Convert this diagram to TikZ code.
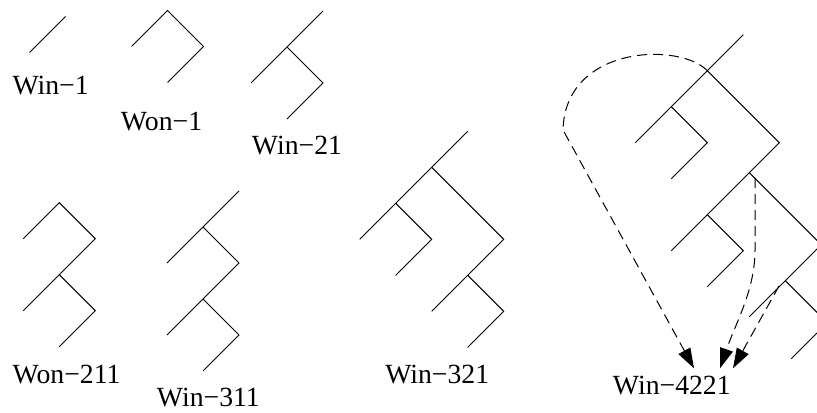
\documentclass[tikz,border=0pt]{standalone}
\usepackage{fontspec}
\setmainfont{Liberation Serif}
\usetikzlibrary{arrows.meta}
\begin{document}
\begin{tikzpicture}[x=0.75pt,y=-0.75pt,
  tree/.style={line width=0.75pt,line join=miter,line cap=butt},
  move/.style={line width=0.75pt,dash pattern=on 7.5pt off 4.5pt,
    -{Triangle[length=15pt,width=10pt]}},
  lbl/.style={inner sep=0pt,anchor=base west,
    font=\fontsize{20.8}{25}\selectfont}]
\useasboundingbox (0,0) rectangle (817,413);
\clip (0,0) rectangle (817,413);

% Win-1
\draw[tree] (29.5,52.5) -- (65.5,16.5);
\node[lbl] (win1) at (12.3,95) {Win−1};

% Won-1
\draw[tree] (131.5,46.5) -- (167.5,10.5) -- (203.5,46.5) -- (167.5,82.5);
\node[lbl] (won1) at (120.7,131) {Won−1};

% Win-21
\draw[tree] (323,11) -- (251,83);
\draw[tree] (287,47) -- (323,83) -- (287,119);
\node[lbl] (win21) at (251.7,155) {Win−21};

% Won-211
\draw[tree] (23.3,238.7) -- (59.3,202.7) -- (95.3,238.7) -- (23.3,310.7);
\draw[tree] (59.3,274.7) -- (95.3,310.7) -- (59.3,346.7);
\node[lbl] (won211) at (12.3,383.3) {Won−211};

% Win-311
\draw[tree] (239,191) -- (167,263);
\draw[tree] (203,227) -- (239,263) -- (167,335);
\draw[tree] (203,299) -- (239,335) -- (203,371);
\node[lbl] (win311) at (156.7,406.7) {Win−311};

% Win-321
\draw[tree] (467.7,131.3) -- (431.7,167.3) -- (359.7,239.3);
\draw[tree] (395.7,203.3) -- (431.7,239.3) -- (395.7,275.3);
\draw[tree] (431.7,167.3) -- (503.7,239.3) -- (431.7,311.3);
\draw[tree] (467.7,275.3) -- (503.7,311.3) -- (467.7,347.3);
\node[lbl] (win321) at (385,383.3) {Win−321};

% Win-4221
\coordinate (A) at (707.3,70.7);
\coordinate (R) at (779.3,142.7);
\coordinate (S) at (707.3,214.7);
\coordinate (B) at (749.3,172.7);
\coordinate (C) at (821.3,244.7);
\coordinate (D) at (785.3,280.7);
\coordinate (E) at (827.3,322.7);
\draw[tree] (743.3,34.7) -- (A) -- (635.3,142.7);
\draw[tree] (671.3,106.7) -- (707.3,142.7) -- (671.3,178.7);
\draw[tree] (A) -- (R) -- (671.3,250.7);
\draw[tree] (S) -- (743.3,250.7) -- (707.3,286.7);
\draw[tree] (B) -- (C) -- (749.3,316.7);
\draw[tree] (D) -- (E) -- (791.3,358.7);
\node[lbl] (win4221) at (612.7,394.3) {Win−4221};

% moves leading to Win-4221
\coordinate (t1) at (694,368.3);
\coordinate (t2) at (720,368.3);
\coordinate (t3) at (733,368.3);
\coordinate (s2) at (755,178);
\coordinate (s3) at (779,286);
\draw[move] (A) .. controls (680,42) and (565,45) .. (563,130) -- (t1);
\draw[move] (s2) -- (755,250) .. controls (755,290) and (736,322) .. (t2);
\draw[move] (s3) -- (t3);
\end{tikzpicture}
\end{document}
